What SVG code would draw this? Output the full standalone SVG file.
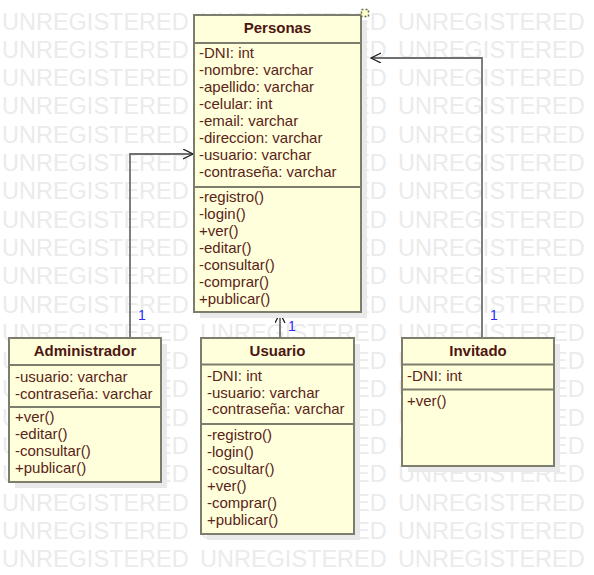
<svg xmlns="http://www.w3.org/2000/svg" width="594" height="575" viewBox="0 0 594 575">
<defs>
<style>
.wm{font-family:"Liberation Sans",Arial,sans-serif;font-size:23.5px;fill:#ebebeb}
.box{fill:#ffffdc;stroke:#7d7d6d;stroke-width:2}
.sh{fill:#e9e9e9}
.sep{stroke:#7d7d6d;stroke-width:2}
.hd{font-family:"Liberation Sans",Arial,sans-serif;font-size:15px;font-weight:bold;fill:#4e1612;text-anchor:middle}
.t{font-family:"Liberation Sans",Arial,sans-serif;font-size:15px;fill:#5a2418}
.ln{fill:none;stroke:#707070;stroke-width:1.8}
.lbl{font-family:"Liberation Sans",Arial,sans-serif;font-size:14px;fill:#2a2aff}
</style>
<marker id="arr" markerWidth="12" markerHeight="12" refX="10" refY="5" orient="auto" markerUnits="userSpaceOnUse" viewBox="0 0 12 12">
<path d="M0,0 L10,5 L0,10" fill="none" stroke="#222" stroke-width="1.3"/>
</marker>
</defs>
<rect width="594" height="575" fill="#ffffff"/>
<g id="watermark">
<text class="wm" x="2" y="29.5">UNREGISTERED</text><text class="wm" x="200" y="29.5">UNREGISTERED</text><text class="wm" x="398" y="29.5">UNREGISTERED</text>
<text class="wm" x="2" y="57.8">UNREGISTERED</text><text class="wm" x="200" y="57.8">UNREGISTERED</text><text class="wm" x="398" y="57.8">UNREGISTERED</text>
<text class="wm" x="2" y="86.1">UNREGISTERED</text><text class="wm" x="200" y="86.1">UNREGISTERED</text><text class="wm" x="398" y="86.1">UNREGISTERED</text>
<text class="wm" x="2" y="114.4">UNREGISTERED</text><text class="wm" x="200" y="114.4">UNREGISTERED</text><text class="wm" x="398" y="114.4">UNREGISTERED</text>
<text class="wm" x="2" y="142.7">UNREGISTERED</text><text class="wm" x="200" y="142.7">UNREGISTERED</text><text class="wm" x="398" y="142.7">UNREGISTERED</text>
<text class="wm" x="2" y="171">UNREGISTERED</text><text class="wm" x="200" y="171">UNREGISTERED</text><text class="wm" x="398" y="171">UNREGISTERED</text>
<text class="wm" x="2" y="199.3">UNREGISTERED</text><text class="wm" x="200" y="199.3">UNREGISTERED</text><text class="wm" x="398" y="199.3">UNREGISTERED</text>
<text class="wm" x="2" y="227.6">UNREGISTERED</text><text class="wm" x="200" y="227.6">UNREGISTERED</text><text class="wm" x="398" y="227.6">UNREGISTERED</text>
<text class="wm" x="2" y="255.9">UNREGISTERED</text><text class="wm" x="200" y="255.9">UNREGISTERED</text><text class="wm" x="398" y="255.9">UNREGISTERED</text>
<text class="wm" x="2" y="284.2">UNREGISTERED</text><text class="wm" x="200" y="284.2">UNREGISTERED</text><text class="wm" x="398" y="284.2">UNREGISTERED</text>
<text class="wm" x="2" y="312.5">UNREGISTERED</text><text class="wm" x="200" y="312.5">UNREGISTERED</text><text class="wm" x="398" y="312.5">UNREGISTERED</text>
<text class="wm" x="2" y="340.8">UNREGISTERED</text><text class="wm" x="200" y="340.8">UNREGISTERED</text><text class="wm" x="398" y="340.8">UNREGISTERED</text>
<text class="wm" x="2" y="369.1">UNREGISTERED</text><text class="wm" x="200" y="369.1">UNREGISTERED</text><text class="wm" x="398" y="369.1">UNREGISTERED</text>
<text class="wm" x="2" y="397.4">UNREGISTERED</text><text class="wm" x="200" y="397.4">UNREGISTERED</text><text class="wm" x="398" y="397.4">UNREGISTERED</text>
<text class="wm" x="2" y="425.7">UNREGISTERED</text><text class="wm" x="200" y="425.7">UNREGISTERED</text><text class="wm" x="398" y="425.7">UNREGISTERED</text>
<text class="wm" x="2" y="454">UNREGISTERED</text><text class="wm" x="200" y="454">UNREGISTERED</text><text class="wm" x="398" y="454">UNREGISTERED</text>
<text class="wm" x="2" y="482.3">UNREGISTERED</text><text class="wm" x="200" y="482.3">UNREGISTERED</text><text class="wm" x="398" y="482.3">UNREGISTERED</text>
<text class="wm" x="2" y="510.6">UNREGISTERED</text><text class="wm" x="200" y="510.6">UNREGISTERED</text><text class="wm" x="398" y="510.6">UNREGISTERED</text>
<text class="wm" x="2" y="538.9">UNREGISTERED</text><text class="wm" x="200" y="538.9">UNREGISTERED</text><text class="wm" x="398" y="538.9">UNREGISTERED</text>
<text class="wm" x="2" y="567.2">UNREGISTERED</text><text class="wm" x="200" y="567.2">UNREGISTERED</text><text class="wm" x="398" y="567.2">UNREGISTERED</text>
</g>
<g id="connectors">
<path class="ln" d="M130,338 V154 H193" marker-end="url(#arr)"/>
<path class="ln" d="M280,338 V313" marker-end="url(#arr)"/>
<path class="ln" d="M482,338 V58 H371" marker-end="url(#arr)"/>
<text class="lbl" x="138" y="320">1</text>
<text class="lbl" x="288" y="331">1</text>
<text class="lbl" x="490" y="320">1</text>
</g>
<g id="personas">
<rect class="sh" x="200" y="21" width="167" height="297"/>
<rect class="box" x="194" y="15" width="167" height="297"/>
<line class="sep" x1="194" y1="43" x2="361" y2="43"/>
<line class="sep" x1="194" y1="187" x2="361" y2="187"/>
<text class="hd" x="277.5" y="33">Personas</text>
<text class="t" x="199" y="58">-DNI: int</text>
<text class="t" x="199" y="75">-nombre: varchar</text>
<text class="t" x="199" y="92">-apellido: varchar</text>
<text class="t" x="199" y="109">-celular: int</text>
<text class="t" x="199" y="126">-email: varchar</text>
<text class="t" x="199" y="143">-direccion: varchar</text>
<text class="t" x="199" y="160">-usuario: varchar</text>
<text class="t" x="199" y="177">-contraseña: varchar</text>
<text class="t" x="199" y="202">-registro()</text>
<text class="t" x="199" y="219">-login()</text>
<text class="t" x="199" y="236">+ver()</text>
<text class="t" x="199" y="253">-editar()</text>
<text class="t" x="199" y="270">-consultar()</text>
<text class="t" x="199" y="287">-comprar()</text>
<text class="t" x="199" y="304">+publicar()</text>
<rect x="361.5" y="9.5" width="7" height="7" fill="#ffffcc" stroke="#666655" stroke-width="1.5" stroke-dasharray="2,2"/>
</g>
<g id="administrador">
<rect class="sh" x="15" y="344" width="152" height="144"/>
<rect class="box" x="9" y="338" width="152" height="144"/>
<line class="sep" x1="9" y1="365" x2="161" y2="365"/>
<line class="sep" x1="9" y1="407" x2="161" y2="407"/>
<text class="hd" x="85" y="356">Administrador</text>
<text class="t" x="15" y="382">-usuario: varchar</text>
<text class="t" x="15" y="399">-contraseña: varchar</text>
<text class="t" x="15" y="422">+ver()</text>
<text class="t" x="15" y="439">-editar()</text>
<text class="t" x="15" y="456">-consultar()</text>
<text class="t" x="15" y="473">+publicar()</text>
</g>
<g id="usuario">
<rect class="sh" x="207" y="344" width="153" height="196"/>
<rect class="box" x="201" y="338" width="153" height="196"/>
<line class="sep" x1="201" y1="364.5" x2="354" y2="364.5"/>
<line class="sep" x1="201" y1="424" x2="354" y2="424"/>
<text class="hd" x="277.5" y="356">Usuario</text>
<text class="t" x="207" y="381">-DNI: int</text>
<text class="t" x="207" y="397.5">-usuario: varchar</text>
<text class="t" x="207" y="414">-contraseña: varchar</text>
<text class="t" x="207" y="440">-registro()</text>
<text class="t" x="207" y="457">-login()</text>
<text class="t" x="207" y="474">-cosultar()</text>
<text class="t" x="207" y="491">+ver()</text>
<text class="t" x="207" y="508">-comprar()</text>
<text class="t" x="207" y="525">+publicar()</text>
</g>
<g id="invitado">
<rect class="sh" x="408" y="344" width="152" height="128"/>
<rect class="box" x="402" y="338" width="152" height="128"/>
<line class="sep" x1="402" y1="364.5" x2="554" y2="364.5"/>
<line class="sep" x1="402" y1="389.5" x2="554" y2="389.5"/>
<text class="hd" x="478" y="356">Invitado</text>
<text class="t" x="407" y="381">-DNI: int</text>
<text class="t" x="407" y="406">+ver()</text>
</g>
</svg>
